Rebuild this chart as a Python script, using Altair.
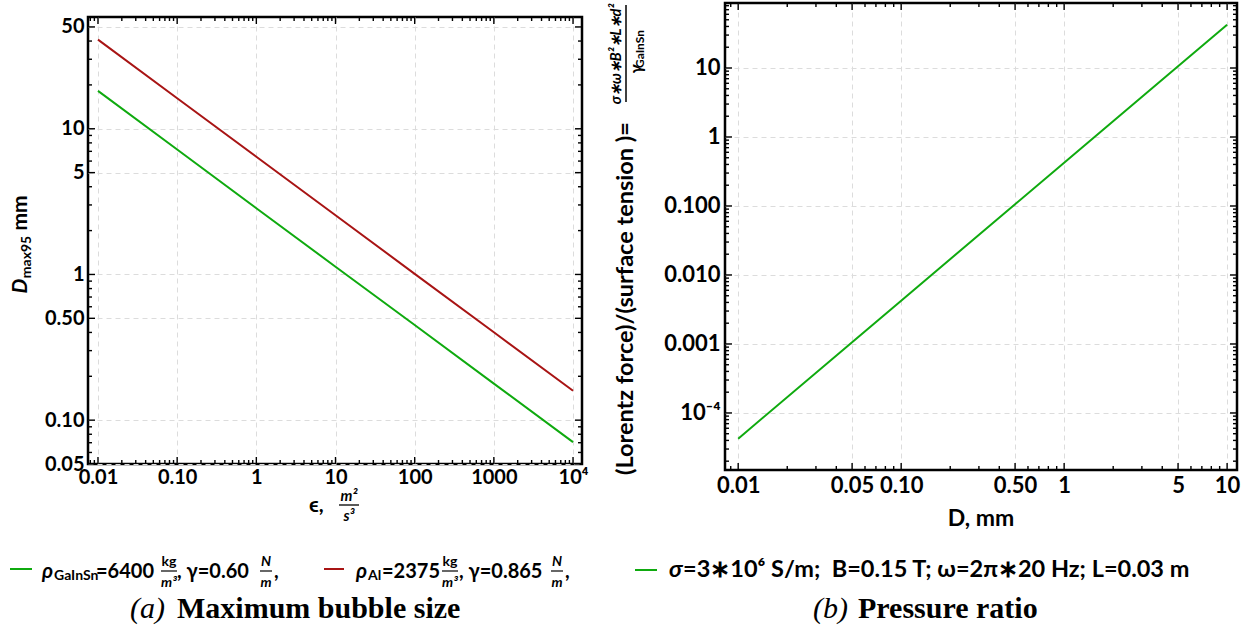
import altair as alt
import pandas as pd

# ---------------- data ----------------
eps = [0.01, 0.1, 1, 10, 100, 1000, 10000]
dmax_gainsn = [18.2, 7.2, 2.85, 1.13, 0.45, 0.178, 0.0706]
dmax_al = [40.9, 16.2, 6.43, 2.55, 1.01, 0.401, 0.159]

diam_mm = [0.01, 0.05, 0.1, 0.5, 1, 5, 10]
pressure_ratio = [4.24e-5, 1.06e-3, 4.24e-3, 0.106, 0.424, 10.6, 42.4]

left_xticks = [0.01, 0.1, 1, 10, 100, 1000, 10000]
left_xlabels = ["0.01", "0.10", "1", "10", "100", "1000", "10⁴"]
left_yticks = [0.05, 0.1, 0.5, 1, 5, 10, 50]
left_ylabels = ["0.05", "0.10", "0.50", "1", "5", "10", "50"]
right_xticks = [0.01, 0.05, 0.1, 0.5, 1, 5, 10]
right_xlabels = ["0.01", "0.05", "0.10", "0.50", "1", "5", "10"]
right_yticks = [1e-4, 1e-3, 0.01, 0.1, 1, 10]
right_ylabels = ["10⁻⁴", "0.001", "0.010", "0.100", "1", "10"]

materials = ["GaInSn", "Al"]

# ---------------- style ----------------
SANS = "Lato"
SERIF = "Liberation Serif"
GREEN = "#0faa0f"
RED = "#a81414"
LW, LH = 494, 447
RW, RH = 512, 467
LX = [0.00748, 12980]
LY = [0.05, 58.5]
RX = [0.0083, 11.5]
RY = [1.49e-5, 87.5]
ONE = pd.DataFrame({"a": [0]})


def label_expr(vals, labels):
    parts = [f"abs(datum.value - {v}) < {v * 1e-6} ? '{l}'" for v, l in zip(vals, labels)]
    return " : ".join(parts) + " : ''"


def minor_ticks(lo, hi, major):
    out = []
    for e in range(-6, 6):
        for m in range(1, 10):
            v = m * 10.0 ** e
            if lo < v < hi and all(abs(v - t) > t * 1e-6 for t in major):
                out.append(v)
    return out


def txt(s, x, y, size=20, angle=0, italic=False, bold=True, font=SANS,
        align="center", baseline="middle", color="black", opacity=1):
    return alt.Chart(ONE).mark_text(
        text=s, fontSize=size, angle=angle,
        fontStyle="italic" if italic else "normal",
        fontWeight="bold" if bold else "normal",
        font=font, align=align, baseline=baseline, color=color, opacity=opacity,
    ).encode(x=alt.value(x), y=alt.value(y))


def hline(x1, x2, y, color="black", width=1.5, opacity=1):
    return alt.Chart(ONE).mark_rule(color=color, strokeWidth=width, opacity=opacity).encode(
        x=alt.value(x1), x2=alt.value(x2), y=alt.value(y))


def vline(x, y1, y2, color="black", width=1.5, opacity=1):
    return alt.Chart(ONE).mark_rule(color=color, strokeWidth=width, opacity=opacity).encode(
        x=alt.value(x), y=alt.value(y1), y2=alt.value(y2))


def tick_layers(xmaj, xmin, ymaj, ymin, xs, ys, xax, yax, W, H):
    layers = []
    for vals, L in ((xmaj, 7), (xmin, 4)):
        base = alt.Chart(pd.DataFrame({"v": vals})).mark_rule(color="black", strokeWidth=1.4)
        xe = alt.X("v:Q", scale=xs, axis=xax, title=None)
        layers.append(base.encode(x=xe, y=alt.value(H), y2=alt.value(H - L)))
        layers.append(base.encode(x=xe, y=alt.value(0), y2=alt.value(L)))
    for vals, L in ((ymaj, 7), (ymin, 4)):
        base = alt.Chart(pd.DataFrame({"v": vals})).mark_rule(color="black", strokeWidth=1.4)
        ye = alt.Y("v:Q", scale=ys, axis=yax, title=None)
        layers.append(base.encode(y=ye, x=alt.value(0), x2=alt.value(L)))
        layers.append(base.encode(y=ye, x=alt.value(W), x2=alt.value(W - L)))
    return layers


# ---------------- left panel ----------------
lxs = alt.Scale(type="log", domain=LX, nice=False)
lys = alt.Scale(type="log", domain=LY, nice=False)
lxa = alt.Axis(values=left_xticks, labelExpr=label_expr(left_xticks, left_xlabels),
               labelPadding=3, gridDash=[5, 4], labelFontSize=20, title=None)
lya = alt.Axis(values=left_yticks, labelExpr=label_expr(left_yticks, left_ylabels),
               labelPadding=4, gridDash=[5, 4], labelFontSize=20, title=None)

left_df = pd.DataFrame({
    "eps": eps * 2,
    "D": dmax_gainsn + dmax_al,
    "material": [materials[0]] * len(eps) + [materials[1]] * len(eps),
})

left_lines = alt.Chart(left_df).mark_line(strokeWidth=2).encode(
    x=alt.X("eps:Q", scale=lxs, axis=lxa, title=None),
    y=alt.Y("D:Q", scale=lys, axis=lya, title=None),
    color=alt.Color("material:N", scale=alt.Scale(domain=materials, range=[GREEN, RED]), legend=None),
    detail="material:N",
)

lyo = 555  # legend row (relative)
left_text = [
    # y-axis title
    txt("D", -67, 269, size=21, angle=270, italic=True),
    txt("max95", -61, 240, size=14, angle=270),
    txt("mm", -67, 196, size=21, angle=270),
    # x-axis title
    txt("ϵ,", 221, 489, size=21, align="left"),
    txt("m²", 261, 479, size=15, italic=True),
    hline(251, 271, 488, width=1.3),
    txt("s³", 261, 499, size=15, italic=True),
    # legend
    hline(-78, -56, lyo - 3, color=GREEN, width=2),
    txt("ρ", -46, lyo, size=21, italic=True, align="left"),
    txt("GaInSn", -34, lyo + 4, size=14, align="left"),
    txt("=6400", 8, lyo, size=20, align="left"),
    txt("kg", 81, lyo - 10, size=14),
    hline(73, 89, lyo - 1, width=1.2),
    txt("m³", 81, lyo + 11, size=14, italic=True),
    txt(", γ=0.60", 89, lyo, size=20, align="left"),
    txt("N", 178, lyo - 10, size=14, italic=True),
    hline(172, 184, lyo - 1, width=1.2),
    txt("m", 178, lyo + 11, size=14, italic=True),
    txt(",", 186, lyo, size=20, align="left"),
    hline(236, 256, lyo - 3, color=RED, width=2),
    txt("ρ", 268, lyo, size=21, italic=True, align="left"),
    txt("Al", 280, lyo + 4, size=14, align="left"),
    txt("=2375", 294, lyo, size=20, align="left"),
    txt("kg", 362, lyo - 10, size=14),
    hline(354, 370, lyo - 1, width=1.2),
    txt("m³", 362, lyo + 11, size=14, italic=True),
    txt(", γ=0.865", 371, lyo, size=20, align="left"),
    txt("N", 469, lyo - 10, size=14, italic=True),
    hline(463, 475, lyo - 1, width=1.2),
    txt("m", 469, lyo + 11, size=14, italic=True),
    txt(",", 477, lyo, size=20, align="left"),
    # caption
    txt("(a)", 42, 592, size=30, italic=True, bold=False, font=SERIF, align="left"),
    txt("Maximum bubble size", 89, 592, size=30, font=SERIF, align="left"),
    # layout anchors (invisible)
    vline(-86, 0, 0, opacity=0, width=1),
    vline(512, 0, 0, opacity=0, width=1),
]

left = alt.layer(
    left_lines,
    *tick_layers(left_xticks, minor_ticks(LX[0], LX[1], left_xticks),
                 left_yticks, minor_ticks(LY[0], LY[1], left_yticks), lxs, lys, lxa, lya, LW, LH),
    *left_text,
).properties(width=LW, height=LH)

spacer = alt.Chart(ONE).mark_text(text=".", opacity=0).encode(
    x=alt.value(0), y=alt.value(5)
).properties(width=LW, height=10, view=alt.ViewBackground(stroke="transparent"))

left_col = alt.vconcat(spacer, left, spacing=0)

# ---------------- right panel ----------------
rxs = alt.Scale(type="log", domain=RX, nice=False)
rys = alt.Scale(type="log", domain=RY, nice=False)
rxa = alt.Axis(values=right_xticks, labelExpr=label_expr(right_xticks, right_xlabels),
               labelPadding=5, gridDash=[5, 4], labelFontSize=22, title=None)
rya = alt.Axis(values=right_yticks, labelExpr=label_expr(right_yticks, right_ylabels),
               labelPadding=5, gridDash=[5, 4], labelFontSize=22, title=None)

right_df = pd.DataFrame({"D": diam_mm, "ratio": pressure_ratio})

right_line = alt.Chart(right_df).mark_line(strokeWidth=2, color=GREEN).encode(
    x=alt.X("D:Q", scale=rxs, axis=rxa, title=None),
    y=alt.Y("ratio:Q", scale=rys, axis=rya, title=None),
)

right_text = [
    txt("(Lorentz force)/(surface tension )=", -99, 472, size=23.5, angle=270, align="left"),
    txt("σ∗ω∗B²∗L∗d²", -108, 51, size=14.5, angle=270, italic=True),
    vline(-99, 2, 99, width=1.5),
    txt("γ", -88, 66, size=17, angle=270, italic=True),
    txt("GaInSn", -85, 46, size=12, angle=270),
    txt("D, mm", RW / 2, 516, size=23),
    hline(-90, -68, 567, color=GREEN, width=2),
    txt("σ", -56, 567, size=23.5, italic=True, align="left"),
    txt("=3∗10⁶ S/m;\u00a0 B=0.15 T; ω=2π∗20 Hz; L=0.03 m", -42, 567, size=23.5, align="left"),
    txt("(b)", 88, 606, size=30, italic=True, bold=False, font=SERIF, align="left"),
    txt("Pressure ratio", 133, 606, size=30, font=SERIF, align="left"),
    vline(-120, 0, 0, opacity=0, width=1),
]

right = alt.layer(
    right_line,
    *tick_layers(right_xticks, minor_ticks(RX[0], RX[1], right_xticks),
                 right_yticks, minor_ticks(RY[0], RY[1], right_yticks), rxs, rys, rxa, rya, RW, RH),
    *right_text,
).properties(width=RW, height=RH)

chart = alt.hconcat(left_col, right, spacing=1).properties(
    padding={"left": 0, "top": 0, "right": 0, "bottom": 0}
).configure_view(
    stroke="black", strokeWidth=2.5
).configure_axis(
    labelFont=SANS, labelFontWeight="bold", labelColor="black",
    ticks=False, domain=False, grid=True, gridColor="#dcdcdc", gridWidth=1,
)

chart.save("out.html", embed_options={"renderer": "svg", "actions": False})
